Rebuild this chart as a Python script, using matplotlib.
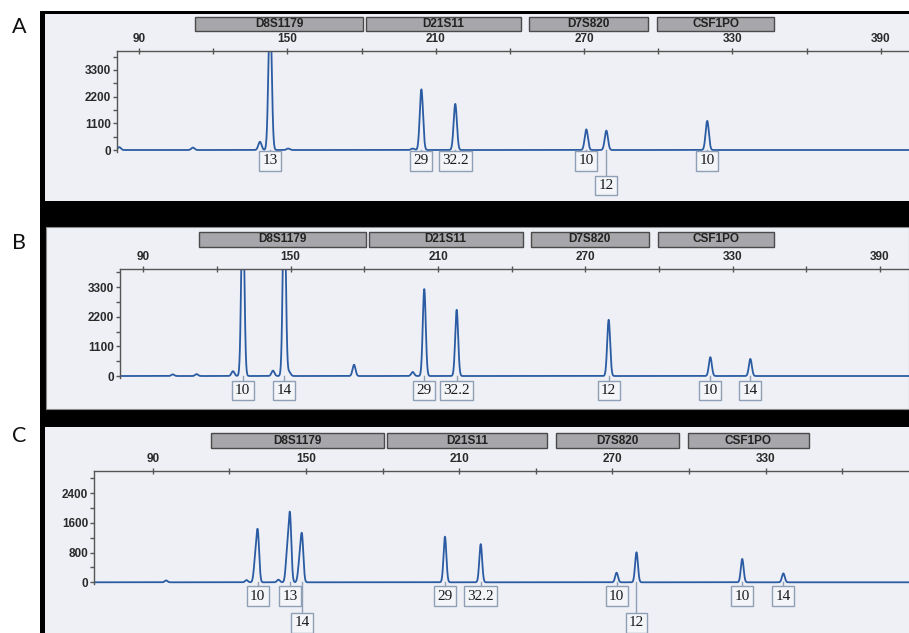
import numpy as np
import matplotlib
matplotlib.use('Agg')
import matplotlib.pyplot as plt
from matplotlib.patches import Rectangle
from matplotlib.transforms import blended_transform_factory

# ---------------- data ----------------
locus_names = ['D8S1179', 'D21S11', 'D7S820', 'CSF1PO']
locus_start = [112.7, 181.7, 247.7, 299.5]
locus_end = [180.5, 244.5, 296.0, 346.8]

size_major = [90, 150, 210, 270, 330, 390]
size_minor = [120, 180, 240, 300, 360]

# Panel A
a_labels = ['13', '29', '32.2', '10', '12', '10']
a_sizes = [143.0, 204.2, 217.9, 270.9, 279.0, 319.8]
a_heights = [6000, 2500, 1900, 850, 800, 1200]
a_minor_sizes = [82.0, 111.8, 138.9, 150.3, 200.7]
a_minor_heights = [120, 100, 340, 60, 60]
a_rfu_major = [0, 1100, 2200, 3300]
a_rfu_minor = [550, 1650, 2750, 3850]

# Panel B
b_labels = ['10', '14', '29', '32.2', '12', '10', '14']
b_sizes = [130.5, 147.4, 204.4, 217.6, 279.5, 320.9, 337.2]
b_heights = [7000, 7000, 3230, 2460, 2090, 700, 635]
b_minor_sizes = [102.0, 111.7, 126.5, 142.8, 149.4, 175.8, 199.7]
b_minor_heights = [60, 70, 180, 200, 150, 420, 150]
b_rfu_major = [0, 1100, 2200, 3300]
b_rfu_minor = [550, 1650, 2750, 3850]

# Panel C
c_labels = ['10', '13', '14', '29', '32.2', '10', '12', '10', '14']
c_sizes = [131.1, 143.7, 148.4, 204.4, 218.4, 271.6, 279.4, 320.8, 336.9]
c_heights = [1320, 1790, 1230, 1230, 1030, 260, 810, 630, 240]
c_minor_sizes = [95.2, 126.7, 130.1, 139.2, 142.6, 147.4]
c_minor_heights = [50, 60, 555, 70, 760, 490]
c_rfu_major = [0, 800, 1600, 2400]
c_rfu_minor = [400, 1200, 2000, 2800]

# ---------------- layout (pixels) ----------------
W, H = 909, 633
fig = plt.figure(figsize=(W / 100, H / 100), dpi=100)
fig.patch.set_facecolor('white')

def fx(x):
    return x / W

def fy(y):
    return 1 - y / H

def rect_px(x0, y0, x1, y1, **kw):
    r = Rectangle((fx(x0), fy(y1)), fx(x1) - fx(x0), fy(y0) - fy(y1),
                  transform=fig.transFigure, **kw)
    fig.add_artist(r)
    return r

PANEL_BG = '#eef0f5'
TRACE = '#2b5ca3'
# black frame
rect_px(40, 11, 909, 633, facecolor='black', edgecolor='none', zorder=-10)
rect_px(45, 13.5, 909, 201, facecolor=PANEL_BG, edgecolor='none', zorder=-9)
rect_px(46, 227, 909, 408.5, facecolor=PANEL_BG, edgecolor='#8a8a8a', lw=0.8, zorder=-9)
rect_px(45, 427, 909, 633, facecolor=PANEL_BG, edgecolor='none', zorder=-9)

panels = [
    dict(letter='A', letter_y=27, ax=(117, 909, 51, 152), xlim=(81.1, 401.4), ylim=(-82, 4080),
         base=150, locus_y=(17, 31), labels=a_labels, sizes=a_sizes, heights=a_heights,
         msizes=a_minor_sizes, mheights=a_minor_heights, rmaj=a_rfu_major, rmin=a_rfu_minor,
         rows=[0, 0, 0, 0, 1, 0], row_off=[3, 27.5], sigma=0.65),
    dict(letter='B', letter_y=243, ax=(120, 909, 269, 378), xlim=(80.5, 401.8), ylim=(-74, 3976),
         base=376, locus_y=(232, 247), labels=b_labels, sizes=b_sizes, heights=b_heights,
         msizes=b_minor_sizes, mheights=b_minor_heights, rmaj=b_rfu_major, rmin=b_rfu_minor,
         rows=[0] * 7, row_off=[6.5, 32], sigma=0.6),
    dict(letter='C', letter_y=436, ax=(94.3, 909, 470.7, 584.3), xlim=(67.1, 386.1), ylim=(-54, 3009),
         base=582.3, locus_y=(432.7, 448.3), labels=c_labels, sizes=c_sizes, heights=c_heights,
         msizes=c_minor_sizes, mheights=c_minor_heights, rmaj=c_rfu_major, rmin=c_rfu_minor,
         rows=[0, 0, 1, 0, 0, 0, 1, 0, 0], row_off=[6, 32.7], sigma=0.55),
]

def peaks(x, sizes, heights, sigma):
    y = np.zeros_like(x)
    for s, h in zip(sizes, heights):
        y += h * np.exp(-0.5 * ((x - s) / sigma) ** 2)
    return y

for p in panels:
    l, r, t, b = p['ax']
    ax = fig.add_axes([fx(l), fy(b), fx(r) - fx(l), fy(t) - fy(b)])
    ax.set_facecolor('none')
    ax.set_xlim(*p['xlim'])
    ax.set_ylim(*p['ylim'])
    for s in ['bottom', 'right']:
        ax.spines[s].set_visible(False)
    for s in ['top', 'left']:
        ax.spines[s].set_color('#555555')
        ax.spines[s].set_linewidth(1.0)
    ax.xaxis.tick_top()
    majors = [v for v in size_major if p['xlim'][0] <= v <= p['xlim'][1] - 3]
    minors = [v for v in size_minor if p['xlim'][0] <= v <= p['xlim'][1]]
    ax.set_xticks(majors)
    ax.set_xticks(minors, minor=True)
    ax.set_xticklabels([str(v) for v in majors])
    ax.tick_params(axis='x', which='both', direction='inout', length=5, width=1,
                   color='#555555', pad=1.5, labelsize=8.5, labelcolor='#2a2a2a')
    ax.set_yticks(p['rmaj'])
    ax.set_yticks(p['rmin'], minor=True)
    ax.set_yticklabels([str(v) for v in p['rmaj']])
    ax.tick_params(axis='y', which='both', direction='out', length=3, width=1,
                   color='#555555', pad=1.5, labelsize=8.5, labelcolor='#2a2a2a')
    for lab in ax.get_xticklabels() + ax.get_yticklabels():
        lab.set_fontfamily('Liberation Sans')
        lab.set_fontweight('bold')

    x = np.arange(p['xlim'][0], p['xlim'][1] + 2, 0.02)
    y = peaks(x, p['sizes'], p['heights'], p['sigma']) + \
        peaks(x, p['msizes'], p['mheights'], p['sigma'])
    ax.plot(x, y, color=TRACE, lw=1.3, solid_joinstyle='round')

    tr = blended_transform_factory(ax.transData, fig.transFigure)
    # locus bars
    y0, y1 = p['locus_y']
    for name, s0, s1 in zip(locus_names, locus_start, locus_end):
        ax.add_patch(Rectangle((s0, fy(y1)), s1 - s0, fy(y0) - fy(y1), transform=tr,
                               facecolor='#a7a7ab', edgecolor='#4a4a4a', lw=1.0, clip_on=False))
        ax.text((s0 + s1) / 2, fy((y0 + y1) / 2), name, transform=tr, ha='center', va='center',
                fontsize=8.5, fontweight='bold', family='Liberation Sans', color='#222222')
    # allele label boxes
    base = p['base']
    for lab, s, row in zip(p['labels'], p['sizes'], p['rows']):
        top = base + p['row_off'][row]
        ax.plot([s, s], [fy(base), fy(top)], transform=tr, color='#8f9fb5', lw=1.0, clip_on=False)
        ax.text(s, fy(top + 1.5), lab, transform=tr, ha='center', va='top',
                fontsize=11, family='Liberation Serif', color='#1a1a1a',
                bbox=dict(boxstyle='square,pad=0.22', facecolor='#f3f5f9',
                          edgecolor='#8f9fb5', lw=1.0))
    fig.text(fx(12), fy(p['letter_y']), p['letter'], ha='left', va='center',
             fontsize=15.5, family='Lato', color='#111111')

fig.savefig('out.png', dpi=100)
